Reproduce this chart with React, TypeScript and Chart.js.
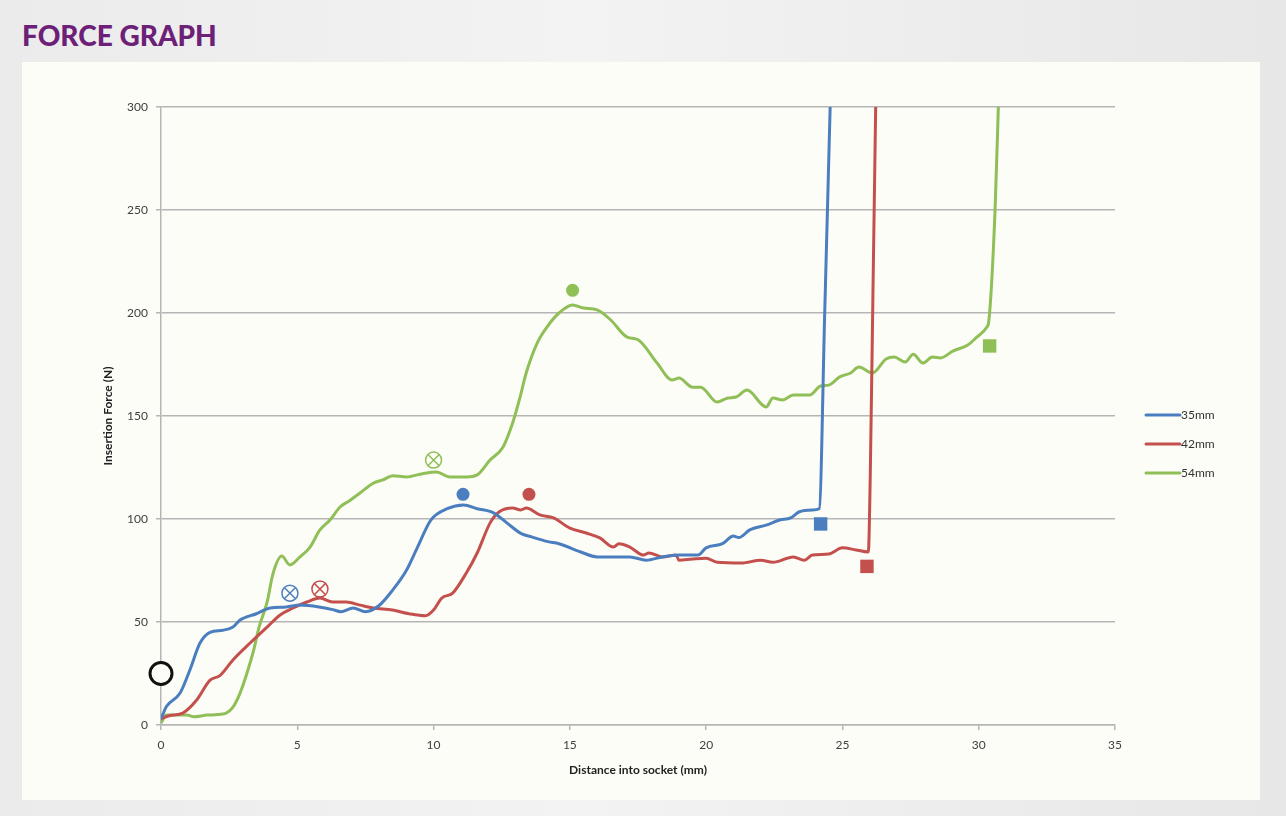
import React, { useEffect, useRef } from "react";
import { Chart, registerables } from "chart.js";

Chart.register(...registerables);

// ---- Data ----
const seriesLabels = ["35mm", "42mm", "54mm"];
const seriesColors = ["#4a7ebf", "#c4504d", "#8fbf56"];

const distance35 = [0, 0.2, 0.7, 1.06, 1.43, 1.8, 2.27, 2.64, 2.9, 3.5, 4.0, 4.6, 5.1, 5.8, 6.3, 6.6, 7.05, 7.5, 8.0, 8.5, 9.0, 9.4, 9.9, 10.5, 11.1, 11.6, 12.2, 12.7, 13.2, 13.6, 14.2, 14.6, 15.4, 16.0, 16.6, 17.2, 17.8, 18.4, 19.0, 19.7, 20.0, 20.6, 21.0, 21.2, 21.6, 22.2, 22.7, 23.1, 23.4, 23.9, 24.15, 24.35, 24.55];
const force35 = [3, 9, 15.5, 26.7, 39.8, 45, 46, 47.6, 51, 54, 56.8, 57.3, 58.2, 57.3, 56, 55, 56.8, 55, 58, 65.5, 75, 86, 99.5, 105, 106.8, 105, 103, 98, 93, 91.3, 89, 88, 84, 81.6, 81.6, 81.6, 80, 81.6, 82.5, 82.5, 86, 88, 91.7, 91, 94.7, 97, 99.5, 100.5, 103.4, 104.4, 105, 200, 300];

const distance42 = [0, 0.3, 0.8, 1.3, 1.8, 2.16, 2.64, 3.27, 3.9, 4.37, 4.85, 5.35, 5.83, 6.3, 6.8, 7.3, 7.8, 8.5, 9.1, 9.7, 10.0, 10.3, 10.7, 11.2, 11.6, 12.07, 12.4, 12.9, 13.2, 13.4, 13.9, 14.4, 15.0, 15.6, 16.1, 16.6, 16.8, 17.2, 17.7, 17.9, 18.4, 18.9, 19.0, 19.5, 20.0, 20.4, 21.3, 22.0, 22.45, 23.2, 23.6, 23.9, 24.5, 25.0, 25.5, 25.95, 26.02, 26.12, 26.22];
const force42 = [3, 4.5, 5.8, 12, 21.8, 24, 31.6, 39.8, 47.6, 53.4, 56.8, 59.7, 61.6, 59.7, 59.7, 58.2, 56.8, 55.8, 54, 53, 55.8, 61.6, 64, 73.8, 83.5, 98, 103.4, 105.3, 104.4, 105.3, 102, 100.5, 95.6, 93.2, 90.8, 86.4, 88, 86.4, 82.5, 83.5, 81.6, 82.5, 80, 80.6, 81, 79, 78.6, 80, 79, 81.6, 80, 82.5, 83, 86, 85, 84, 120, 210, 300];

const distance54 = [0, 0.2, 0.95, 1.2, 1.7, 2.27, 2.64, 2.9, 3.15, 3.4, 3.6, 3.9, 4.1, 4.43, 4.73, 5.1, 5.47, 5.83, 6.2, 6.57, 6.93, 7.3, 7.8, 8.14, 8.5, 9.0, 9.6, 10.1, 10.6, 11.2, 11.6, 12.07, 12.55, 12.9, 13.17, 13.4, 13.8, 14.16, 14.6, 15.1, 15.5, 16.0, 16.5, 17.1, 17.5, 18.2, 18.75, 19.0, 19.5, 19.8, 20.4, 20.8, 21.1, 21.5, 22.2, 22.45, 22.8, 23.2, 23.8, 24.2, 24.5, 24.9, 25.3, 25.6, 26.1, 26.6, 26.9, 27.3, 27.6, 27.95, 28.3, 28.6, 29.05, 29.6, 29.9, 30.3, 30.37, 30.6, 30.72];
const force54 = [1, 4.8, 4.8, 4, 4.8, 5.3, 8.7, 15.5, 25, 36.4, 47.6, 60, 73, 82, 77.7, 81.6, 86.4, 94.7, 99.5, 105.8, 109, 112.6, 117.5, 119, 121, 120.4, 122, 122.8, 120.4, 120.4, 121.4, 128.6, 135, 146.6, 159, 171, 185.4, 193.2, 200, 203.9, 202.4, 201.5, 196.6, 188.3, 187, 175.7, 167.5, 168.4, 164, 164, 156.8, 158.7, 159.2, 162.6, 154.4, 158.7, 157.8, 160.2, 160.2, 164.6, 165, 169, 170.9, 173.8, 170.9, 177.7, 178.6, 176.2, 180, 175.7, 178.6, 178.2, 181.5, 184.5, 187.9, 193.2, 196, 250, 300];

// markers: crossed circles, filled circles (peaks), squares (ends)
const crossX = [4.73, 5.83, 10.0];
const crossY = [64, 66, 128.6];
const peakX = [11.08, 13.5, 15.1];
const peakY = [112, 112, 211];
const endX = [24.2, 25.9, 30.4];
const endY = [97.6, 77, 184];
const originX = [0];
const originY = [25];

const xTicks = [0, 5, 10, 15, 20, 25, 30, 35];
const yTicks = [0, 50, 100, 150, 200, 250, 300];

const toPoints = (xs: number[], ys: number[]) => xs.map((x, i) => ({ x, y: ys[i] }));

const FONT = "Lato, 'Open Sans', sans-serif";

const legendPlugin = {
  id: "customLegend",
  afterDraw(chart: any) {
    const { ctx, chartArea } = chart;
    ctx.save();
    const x0 = chartArea.right + 31;
    const y0 = chartArea.top + 308;
    seriesLabels.forEach((label, i) => {
      const y = y0 + i * 29;
      ctx.strokeStyle = seriesColors[i];
      ctx.lineWidth = 3;
      ctx.lineCap = "round";
      ctx.beginPath();
      ctx.moveTo(x0, y);
      ctx.lineTo(x0 + 34, y);
      ctx.stroke();
      ctx.fillStyle = "#333333";
      ctx.font = `12px ${FONT}`;
      ctx.textBaseline = "middle";
      ctx.textAlign = "left";
      ctx.fillText(label, x0 + 35, y);
    });
    ctx.restore();
  },
};

export default function App() {
  const ref = useRef<HTMLCanvasElement | null>(null);

  useEffect(() => {
    if (!ref.current) return;
    const lineSets = [
      [distance35, force35],
      [distance42, force42],
      [distance54, force54],
    ].map(([xs, ys], i) => ({
      label: seriesLabels[i],
      data: toPoints(xs, ys),
      borderColor: seriesColors[i],
      backgroundColor: seriesColors[i],
      borderWidth: 3,
      pointRadius: 0,
      cubicInterpolationMode: "monotone" as const,
      fill: false,
    }));

    const chart = new Chart(ref.current, {
      type: "line",
      data: {
        datasets: [
          ...lineSets,
          {
            label: "crossCircle",
            data: toPoints(crossX, crossY),
            showLine: false,
            pointStyle: "circle",
            pointRadius: 8,
            pointBorderWidth: 1.5,
            pointBorderColor: seriesColors,
            pointBackgroundColor: "rgba(0,0,0,0)",
            clip: false,
          } as any,
          {
            label: "crossX",
            data: toPoints(crossX, crossY),
            showLine: false,
            pointStyle: "crossRot",
            pointRadius: 8,
            pointBorderWidth: 1.5,
            pointBorderColor: seriesColors,
            clip: false,
          } as any,
          {
            label: "peaks",
            data: toPoints(peakX, peakY),
            showLine: false,
            pointStyle: "circle",
            pointRadius: 6.5,
            pointBorderWidth: 0,
            pointBackgroundColor: seriesColors,
            clip: false,
          } as any,
          {
            label: "ends",
            data: toPoints(endX, endY),
            showLine: false,
            pointStyle: "rect",
            pointRadius: 9.5,
            pointBorderWidth: 0,
            pointBackgroundColor: seriesColors,
            clip: false,
          } as any,
          {
            label: "origin",
            data: toPoints(originX, originY),
            showLine: false,
            pointStyle: "circle",
            pointRadius: 11,
            pointBorderWidth: 3,
            pointBorderColor: "#111111",
            pointBackgroundColor: "#fdfdf8",
            clip: false,
          } as any,
        ],
      },
      options: {
        animation: false,
        responsive: false,
        maintainAspectRatio: false,
        events: [],
        layout: { padding: { top: 45, right: 145, bottom: 0, left: 0 } },
        plugins: {
          legend: { display: false },
          tooltip: { enabled: false },
          title: { display: false },
        },
        scales: {
          x: {
            type: "linear",
            min: 0,
            max: 35,
            afterBuildTicks: (s: any) => {
              s.ticks = xTicks.map((v) => ({ value: v }));
            },
            afterFit: (s: any) => {
              s.height = 75;
            },
            ticks: {
              padding: 8,
              color: "#404040",
              font: { family: FONT, size: 12 },
              maxRotation: 0,
            },
            grid: {
              drawOnChartArea: false,
              drawTicks: true,
              tickLength: 5,
              color: "#b5b5b5",
              lineWidth: 1.5,
            },
            border: { display: true, color: "#b5b5b5", width: 1.5 },
            title: {
              display: true,
              text: "Distance into socket (mm)",
              color: "#222222",
              font: { family: FONT, size: 12, weight: "bold" },
              padding: { top: 0, bottom: 23 },
            },
          },
          y: {
            type: "linear",
            min: 0,
            max: 300,
            afterBuildTicks: (s: any) => {
              s.ticks = yTicks.map((v) => ({ value: v }));
            },
            afterFit: (s: any) => {
              s.width = 139;
            },
            ticks: {
              padding: 8,
              color: "#404040",
              font: { family: FONT, size: 12 },
            },
            grid: {
              drawTicks: true,
              tickLength: 5,
              color: "#b5b5b5",
              lineWidth: 1.5,
            },
            border: { display: true, color: "#b5b5b5", width: 1.5 },
            title: {
              display: true,
              text: "Insertion Force (N)",
              color: "#222222",
              font: { family: FONT, size: 12, weight: "bold" },
              padding: { top: 79, bottom: 0 },
            },
          },
        },
      },
      plugins: [legendPlugin],
    });
    return () => chart.destroy();
  }, []);

  return (
    <div
      style={{
        position: "absolute",
        left: 0,
        top: 0,
        width: 1286,
        height: 816,
        background: "linear-gradient(90deg, #ebebeb 0%, #f3f3f3 45%, #e7e7e7 100%)",
        overflow: "hidden",
      }}
    >
      <div
        style={{
          position: "absolute",
          left: 22,
          top: 18,
          fontFamily: "Lato, 'Open Sans', sans-serif",
          fontWeight: 900,
          fontSize: 28,
          lineHeight: "34px",
          color: "#6d2077",
          letterSpacing: 0,
        }}
      >
        FORCE GRAPH
      </div>
      <div
        style={{
          position: "absolute",
          left: 22,
          top: 62,
          width: 1238,
          height: 738,
          background: "#fdfdf8",
        }}
      >
        <canvas ref={ref} width={1238} height={738} style={{ display: "block" }} />
      </div>
    </div>
  );
}
